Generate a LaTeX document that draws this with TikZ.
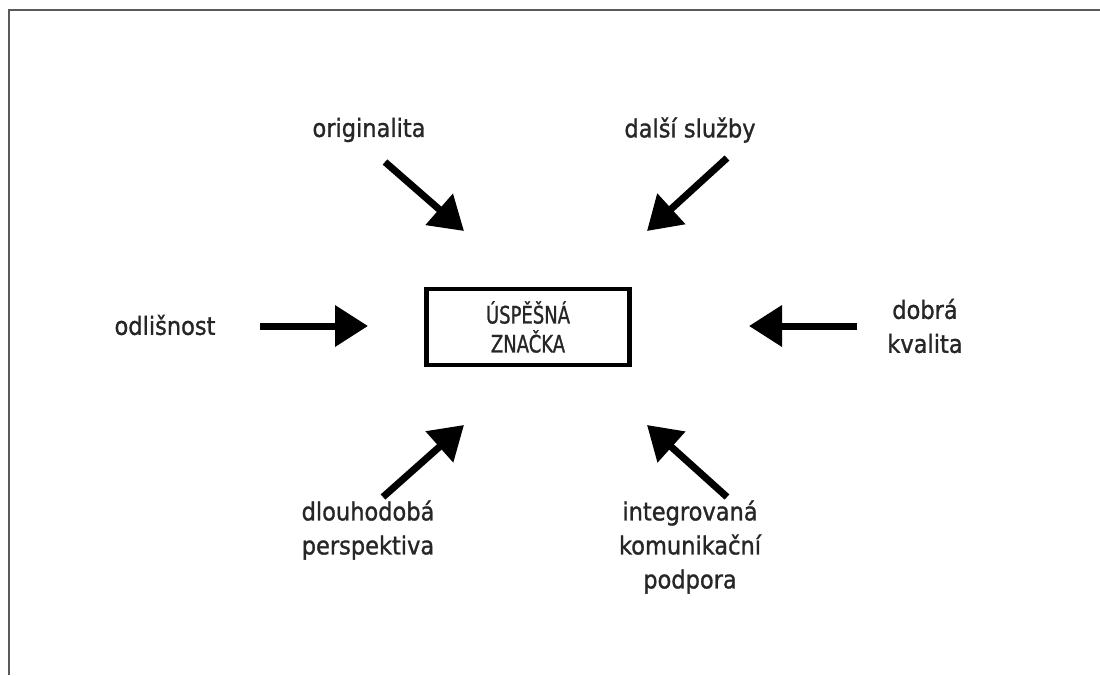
\documentclass[tikz,border=0pt]{standalone}
\usepackage{fontspec}
\setmainfont{DejaVu Sans}[FakeStretch=0.9,FakeBold=1.2]
\newfontfamily\boxfont{DejaVu Sans}[FakeStretch=0.75,FakeBold=1]
\usepackage{tikz}
\usetikzlibrary{arrows.meta,positioning}

\begin{document}
\begin{tikzpicture}[
    x=1pt, y=-1pt,
    brandbox/.style={
    draw=black,
    line width=4.5pt,
    minimum width=203pt,
    minimum height=76pt,
    align=center,
    text=black!85,
    font=\boxfont\fontsize{24}{29}\selectfont},
    factor/.style={
    align=center,
    text=black!85,
    inner sep=0pt,
    font=\fontsize{25}{34}\selectfont},
    myarrow/.style={-{Triangle[length=33pt,width=40pt]},line width=7pt}
    ]
    \useasboundingbox (0,0) rectangle (1100,675);
    \draw[line width=2.5pt, black!65] (9,675) -- (9,10) -- (1100,10);

    \node[brandbox] (brand) at (528,327) {ÚSPĚŠNÁ\\ZNAČKA};

    \node[factor] (orig)  at (369,130) {originalita};
    \node[factor] (sluz)  at (690,130) {další služby};
    \node[factor] (odl)   at (165,325) {odlišnost};
    \node[factor] (kval)  at (925,326) {dobrá\\kvalita};
    \node[factor] (dlouh) at (368,530) {dlouhodobá\\perspektiva};
    \node[factor] (integ) at (690,547) {integrovaná\\komunikační\\podpora};

    \coordinate (a1) at (385,162); \coordinate (b1) at (464,231);
    \coordinate (a2) at (727,158); \coordinate (b2) at (647,231);
    \coordinate (a3) at (260,326); \coordinate (b3) at (368,326);
    \coordinate (a4) at (857,326); \coordinate (b4) at (749,326);
    \coordinate (a5) at (383,497); \coordinate (b5) at (464,425);
    \coordinate (a6) at (727,497); \coordinate (b6) at (647,425);

    \foreach \i in {1,...,6}
        \draw[myarrow] (a\i) -- (b\i);
\end{tikzpicture}
\end{document}
